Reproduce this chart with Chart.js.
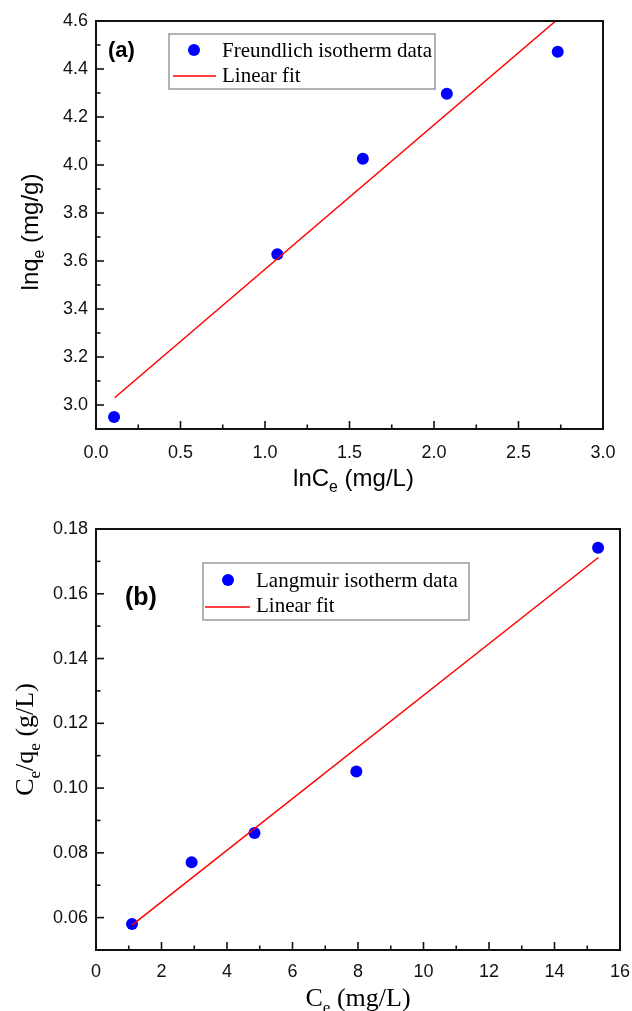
<!DOCTYPE html>
<html>
<head>
<meta charset="utf-8">
<script src="https://cdn.jsdelivr.net/npm/chart.js@4.4.1/dist/chart.umd.min.js"></script>
<style>
  html, body { margin: 0; padding: 0; background: #fff; }
  .panel { position: absolute; left: 0; }
  #panelA { top: 0; }
  #panelB { top: 500px; }
</style>
</head>
<body>
<div class="panel" id="panelA"><canvas id="chartA" width="632" height="500"></canvas></div>
<div class="panel" id="panelB"><canvas id="chartB" width="632" height="511"></canvas></div>
<script>
// ---- (a) Freundlich isotherm: lnqe vs lnCe ----
const freundlichLnCe = [0.107, 1.073, 1.579, 2.076, 2.732];
const freundlichLnQe = [2.95, 3.628, 4.026, 4.297, 4.472];
const freundlichFitX = [0.11, 2.72];
const freundlichFitY = [3.03, 4.60];
const ticksAX = [0, 0.5, 1.0, 1.5, 2.0, 2.5, 3.0];
const ticksAY = [3.0, 3.2, 3.4, 3.6, 3.8, 4.0, 4.2, 4.4, 4.6];

// ---- (b) Langmuir isotherm: Ce/qe vs Ce ----
const langmuirCe = [1.1, 2.92, 4.84, 7.95, 15.33];
const langmuirCeQe = [0.058, 0.0771, 0.0861, 0.1051, 0.1742];
const langmuirFitX = [1.1, 15.34];
const langmuirFitY = [0.0577, 0.1712];
const ticksBX = [0, 2, 4, 6, 8, 10, 12, 14, 16];
const ticksBY = [0.06, 0.08, 0.10, 0.12, 0.14, 0.16, 0.18];

const SANS = '"Liberation Sans", Arial, sans-serif';
const SERIF = '"Liberation Serif", "Times New Roman", serif';
const BLUE = '#0000ff';
const RED = '#ff0000';

function toPoints(xs, ys) { return xs.map((x, i) => ({ x: x, y: ys[i] })); }

// Text with subscript runs; parts = [[text, isSub], ...]
function drawRich(ctx, parts, x, y, size, family, rotate) {
  ctx.save();
  ctx.translate(x, y);
  if (rotate) ctx.rotate(-Math.PI / 2);
  const subSize = size * 0.66;
  const widths = parts.map(([t, sub]) => {
    ctx.font = (sub ? subSize : size) + 'px ' + family;
    return ctx.measureText(t).width;
  });
  const total = widths.reduce((a, b) => a + b, 0);
  let cx = -total / 2;
  ctx.textAlign = 'left';
  ctx.textBaseline = 'alphabetic';
  ctx.fillStyle = '#000';
  parts.forEach(([t, sub], i) => {
    ctx.font = (sub ? subSize : size) + 'px ' + family;
    ctx.fillText(t, cx, sub ? size * 0.26 : 0);
    cx += widths[i];
  });
  ctx.restore();
}

// Frame, inward major/minor ticks, legend, panel label and axis titles
function makeDecor(cfg) {
  return {
    id: 'decor',
    afterDraw(chart) {
      const ctx = chart.ctx;
      const a = chart.chartArea;
      const xs = chart.scales.x, ys = chart.scales.y;
      ctx.save();
      ctx.strokeStyle = '#111';
      ctx.lineWidth = 2;
      ctx.strokeRect(a.left, a.top, a.right - a.left, a.bottom - a.top);

      ctx.lineWidth = 1.6;
      const tickMajor = 8, tickMinor = 4.5;
      const xt = xs.ticks.map(t => t.value);
      xt.forEach((v, i) => {
        const px = xs.getPixelForValue(v);
        ctx.beginPath(); ctx.moveTo(px, a.bottom); ctx.lineTo(px, a.bottom - tickMajor); ctx.stroke();
        if (i < xt.length - 1) {
          const m = xs.getPixelForValue((v + xt[i + 1]) / 2);
          ctx.beginPath(); ctx.moveTo(m, a.bottom); ctx.lineTo(m, a.bottom - tickMinor); ctx.stroke();
        }
      });
      const yt = ys.ticks.map(t => t.value);
      yt.forEach((v, i) => {
        const py = ys.getPixelForValue(v);
        ctx.beginPath(); ctx.moveTo(a.left, py); ctx.lineTo(a.left + tickMajor, py); ctx.stroke();
        if (i < yt.length - 1) {
          const m = ys.getPixelForValue((v + yt[i + 1]) / 2);
          ctx.beginPath(); ctx.moveTo(a.left, m); ctx.lineTo(a.left + tickMinor, m); ctx.stroke();
        }
      });

      // legend box
      const L = cfg.legend;
      ctx.strokeStyle = '#9a9a9a';
      ctx.lineWidth = 1.5;
      ctx.strokeRect(L.x, L.y, L.w, L.h);
      ctx.fillStyle = BLUE;
      ctx.beginPath(); ctx.arc(L.markX, L.row1, 6, 0, Math.PI * 2); ctx.fill();
      ctx.strokeStyle = RED;
      ctx.lineWidth = 1.5;
      ctx.beginPath(); ctx.moveTo(L.lineX0, L.row2); ctx.lineTo(L.lineX1, L.row2); ctx.stroke();
      ctx.fillStyle = '#000';
      ctx.font = L.size + 'px ' + SERIF;
      ctx.textAlign = 'left';
      ctx.textBaseline = 'alphabetic';
      ctx.fillText(cfg.labels[0], L.textX, L.base1);
      ctx.fillText(cfg.labels[1], L.textX, L.base2);

      // panel label
      ctx.font = 'bold ' + cfg.tag.size + 'px ' + SANS;
      ctx.fillText(cfg.tag.text, cfg.tag.x, cfg.tag.y);

      // axis titles
      drawRich(ctx, cfg.xTitle.parts, (a.left + a.right) / 2 + cfg.xTitle.dx, cfg.xTitle.y, cfg.xTitle.size, cfg.xTitle.family, false);
      drawRich(ctx, cfg.yTitle.parts, cfg.yTitle.x, (a.top + a.bottom) / 2 + cfg.yTitle.dy, cfg.yTitle.size, cfg.yTitle.family, true);
      ctx.restore();
    }
  };
}

function buildChart(id, o) {
  const tickFont = { family: SANS, size: 18 };
  return new Chart(document.getElementById(id), {
    type: 'scatter',
    data: {
      datasets: [
        {
          label: o.labels[1],
          data: toPoints(o.fitX, o.fitY),
          showLine: true,
          borderColor: RED,
          borderWidth: 1.5,
          pointRadius: 0,
          fill: false,
          order: 0
        },
        {
          label: o.labels[0],
          data: toPoints(o.xs, o.ys),
          backgroundColor: BLUE,
          borderWidth: 0,
          pointRadius: 6,
          pointHoverRadius: 6,
          order: 1
        }
      ]
    },
    options: {
      responsive: false,
      animation: false,
      devicePixelRatio: 1,
      events: [],
      layout: { padding: o.padding },
      plugins: { legend: { display: false }, tooltip: { enabled: false }, title: { display: false } },
      scales: {
        x: {
          type: 'linear', position: 'bottom', min: o.xMin, max: o.xMax,
          grid: { display: false, drawTicks: false },
          border: { display: false },
          ticks: { font: tickFont, color: '#111', padding: o.xPad, maxRotation: 0, autoSkip: false, callback: o.xFmt },
          afterBuildTicks(s) { s.ticks = o.xTicks.map(v => ({ value: v })); },
          afterFit(s) { s.height = o.xAxisH; s.paddingLeft = 0; s.paddingRight = 0; }
        },
        y: {
          type: 'linear', position: 'left', min: o.yMin, max: o.yMax,
          grid: { display: false, drawTicks: false },
          border: { display: false },
          ticks: { font: tickFont, color: '#111', padding: 8, autoSkip: false, callback: o.yFmt },
          afterBuildTicks(s) { s.ticks = o.yTicks.map(v => ({ value: v })); },
          afterFit(s) { s.width = o.yAxisW; s.paddingTop = 0; s.paddingBottom = 0; }
        }
      }
    },
    plugins: [makeDecor(o)]
  });
}

buildChart('chartA', {
  xs: freundlichLnCe, ys: freundlichLnQe, fitX: freundlichFitX, fitY: freundlichFitY,
  xTicks: ticksAX, yTicks: ticksAY,
  xMin: 0, xMax: 3, yMin: 2.9, yMax: 4.6,
  xFmt: v => Number(v).toFixed(1), yFmt: v => Number(v).toFixed(1),
  padding: { left: 0, top: 21, right: 29, bottom: 0 },
  yAxisW: 96, xAxisH: 71, xPad: 13,
  labels: ['Freundlich isotherm data', 'Linear fit'],
  legend: { x: 169, y: 34, w: 266, h: 55, markX: 194, row1: 50, row2: 76, lineX0: 173, lineX1: 216, textX: 222, base1: 57, base2: 82, size: 21 },
  tag: { text: '(a)', x: 108, y: 57, size: 22 },
  xTitle: { parts: [['lnC', false], ['e', true], [' (mg/L)', false]], y: 486, size: 24, family: SANS, dx: 4 },
  yTitle: { parts: [['lnq', false], ['e', true], [' (mg/g)', false]], x: 38, size: 24, family: SANS, dy: 7 }
});

buildChart('chartB', {
  xs: langmuirCe, ys: langmuirCeQe, fitX: langmuirFitX, fitY: langmuirFitY,
  xTicks: ticksBX, yTicks: ticksBY,
  xMin: 0, xMax: 16, yMin: 0.05, yMax: 0.18,
  xFmt: v => String(Math.round(v)), yFmt: v => Number(v).toFixed(2),
  padding: { left: 0, top: 29, right: 12, bottom: 0 },
  yAxisW: 96, xAxisH: 61, xPad: 11,
  labels: ['Langmuir isotherm data', 'Linear fit'],
  legend: { x: 203, y: 63, w: 266, h: 57, markX: 228, row1: 80, row2: 107, lineX0: 205, lineX1: 250, textX: 256, base1: 87, base2: 112, size: 21 },
  tag: { text: '(b)', x: 125, y: 105, size: 25 },
  xTitle: { parts: [['C', false], ['e', true], [' (mg/L)', false]], y: 506, size: 26, family: SERIF, dx: 0 },
  yTitle: { parts: [['C', false], ['e', true], ['/q', false], ['e', true], [' (g/L)', false]], x: 33, size: 26, family: SERIF, dy: 0 }
});
</script>
</body>
</html>
